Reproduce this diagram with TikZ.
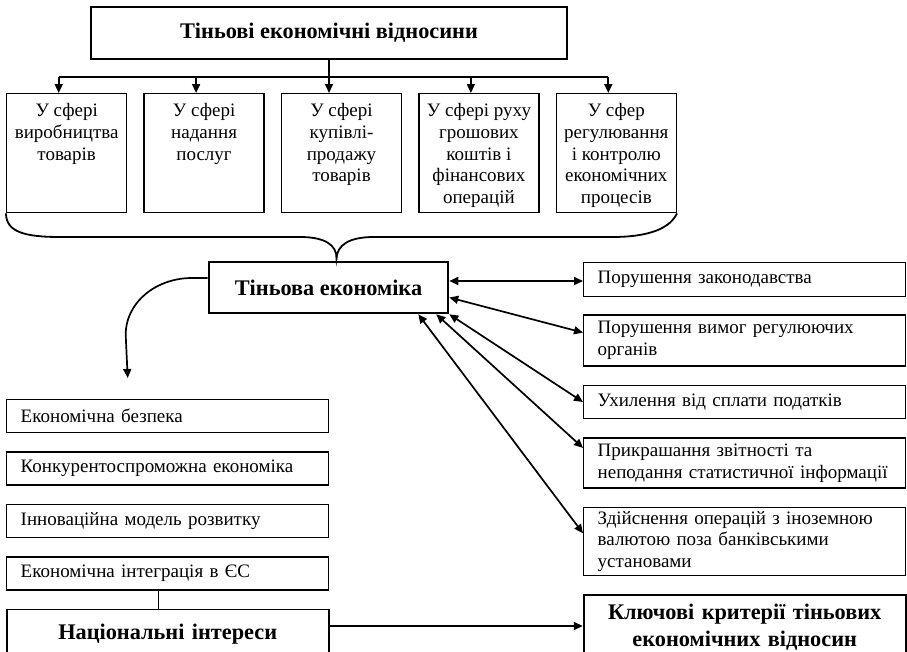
\documentclass[tikz,border=0pt]{standalone}
\usepackage{fontspec}
\setmainfont{Liberation Serif}
\usetikzlibrary{positioning,arrows.meta}

\begin{document}
\begin{tikzpicture}[
  x=1pt, y=-1pt, >={Triangle[length=9pt,width=8pt]}, node distance=18pt,
  font=\fontsize{19}{21.7}\selectfont,
  hd/.style={draw, line width=2.6pt, align=center, inner sep=0pt,
             font=\fontsize{22.3}{27}\selectfont\bfseries},
  sf/.style={draw, line width=1.4pt, minimum width=120pt, minimum height=119pt,
             inner xsep=2pt, inner ysep=10pt},
  lst/.style={draw, line width=1.4pt, align=left, text width=294pt,
              inner xsep=14pt, inner ysep=0pt},
  kb/.style={draw, line width=1.8pt, align=center, text width=294pt,
             inner xsep=14pt, inner ysep=0pt,
             font=\fontsize{22.3}{27}\selectfont\bfseries},
  fl/.style={->, line width=1.7pt},
  dfl/.style={<->, line width=1.7pt},
  brc/.style={line width=1.8pt},
]
\useasboundingbox (0,0) rectangle (907,651);

\node[hd, minimum width=476pt, minimum height=52pt] (tv) at (329,33) {Тіньові економічні відносини};
\node[sf, anchor=north west] (s1) at (6,93) {\parbox[c][99pt][t]{116pt}{\centering У сфері\\виробництва\\товарів}};
\node[sf, right=16pt of s1] (s2) {\parbox[c][99pt][t]{116pt}{\centering У сфері\\надання\\послуг}};
\node[sf, right=16pt of s2] (s3) {\parbox[c][99pt][t]{116pt}{\centering У сфері\\купівлі-\\продажу\\товарів}};
\node[sf, right=16pt of s3] (s4) {\parbox[c][99pt][t]{116pt}{\centering У сфері руху\\грошових\\коштів і\\фінансових\\операцій}};
\node[sf, right=16pt of s4] (s5) {\parbox[c][99pt][t]{116pt}{\centering У сфер\\регулювання\\і контролю\\економічних\\процесів}};

\node[hd, minimum width=239pt, minimum height=51pt] (te) at (328.5,287.5) {Тіньова економіка};

\node[lst, minimum height=34pt, anchor=north west] (r1) at (583,262) {Порушення законодавства};
\node[lst, minimum height=51pt, below=17pt of r1] (r2) {Порушення вимог регулюючих\\органів};
\node[lst, minimum height=33pt, below=of r2] (r3) {Ухилення від сплати податків};
\node[lst, minimum height=50pt, below=of r3] (r4) {Прикрашання звітності та\\неподання статистичної інформації};
\node[lst, minimum height=68pt, below=of r4] (r5) {Здійснення операцій з іноземною\\валютою поза банківськими\\установами};
\node[kb, minimum height=65pt, below=of r5] (r6) {Ключові критерії тіньових\\економічних відносин};

\node[lst, minimum height=33pt, anchor=north west] (l1) at (6,399) {Економічна безпека};
\node[lst, minimum height=33pt, below=of l1] (l2) {Конкурентоспроможна економіка};
\node[lst, minimum height=33pt, below=of l2] (l3) {Інноваційна модель розвитку};
\node[lst, minimum height=33pt, below=of l3] (l4) {Економічна інтеграція в ЄС};
\node[kb, minimum height=49pt, below=of l4] (l5) {Національні інтереси};

\coordinate[below=17pt of tv.south] (bus);
\coordinate[above=2pt of te.north, xshift=8pt] (tip);
\coordinate[above=21pt of l1.north, xshift=-40pt] (lt);

\draw[fl] (tv.south) -- (tv.south |- s3.north);
\draw[line width=1.7pt] ([xshift=-8pt]s1.north |- bus) -- ([xshift=-8pt]s5.north |- bus);
\draw[fl] ([xshift=-8pt]s1.north |- bus) -- ([xshift=-8pt]s1.north);
\draw[fl] ([xshift=-8pt]s2.north |- bus) -- ([xshift=-8pt]s2.north);
\draw[fl] ([xshift=-8pt]s4.north |- bus) -- ([xshift=-8pt]s4.north);
\draw[fl] ([xshift=-8pt]s5.north |- bus) -- ([xshift=-8pt]s5.north);

% brace under the five spheres
\draw[brc] (s1.south west) .. controls (6,232) and (25,237) .. (60,237) -- (300,237)
  .. controls (325,237) and (337,245) .. (tip)
  .. controls (337,245) and (349,237) .. (374,237) -- (612,237)
  .. controls (650,237) and (670,228) .. (s5.south east);

\draw[fl] ([yshift=9.5pt]te.west) -- ++(-16,0) to[out=180,in=90] ++(-66,57) -- (lt);

\draw[dfl] ([yshift=6.5pt]te.east) -- ([yshift=6.5pt]te.east -| r1.west);
\draw[dfl] ([yshift=-10pt]te.east) -- ([yshift=8pt]r2.west);
\draw[dfl] (te.south east) -- (r3.west);
\draw[dfl] ([xshift=-13pt]te.south east) -- ([yshift=15pt]r4.west);
\draw[dfl] ([xshift=-31pt]te.south east) -- ([yshift=8pt]r5.west);

\draw[line width=1pt] ([xshift=-9pt]l4.south) -- ([xshift=-9pt]l4.south |- l5.north);
\draw[fl] ([yshift=8pt]l5.east) -- ([yshift=8pt]l5.east -| r6.west);
\end{tikzpicture}
\end{document}
